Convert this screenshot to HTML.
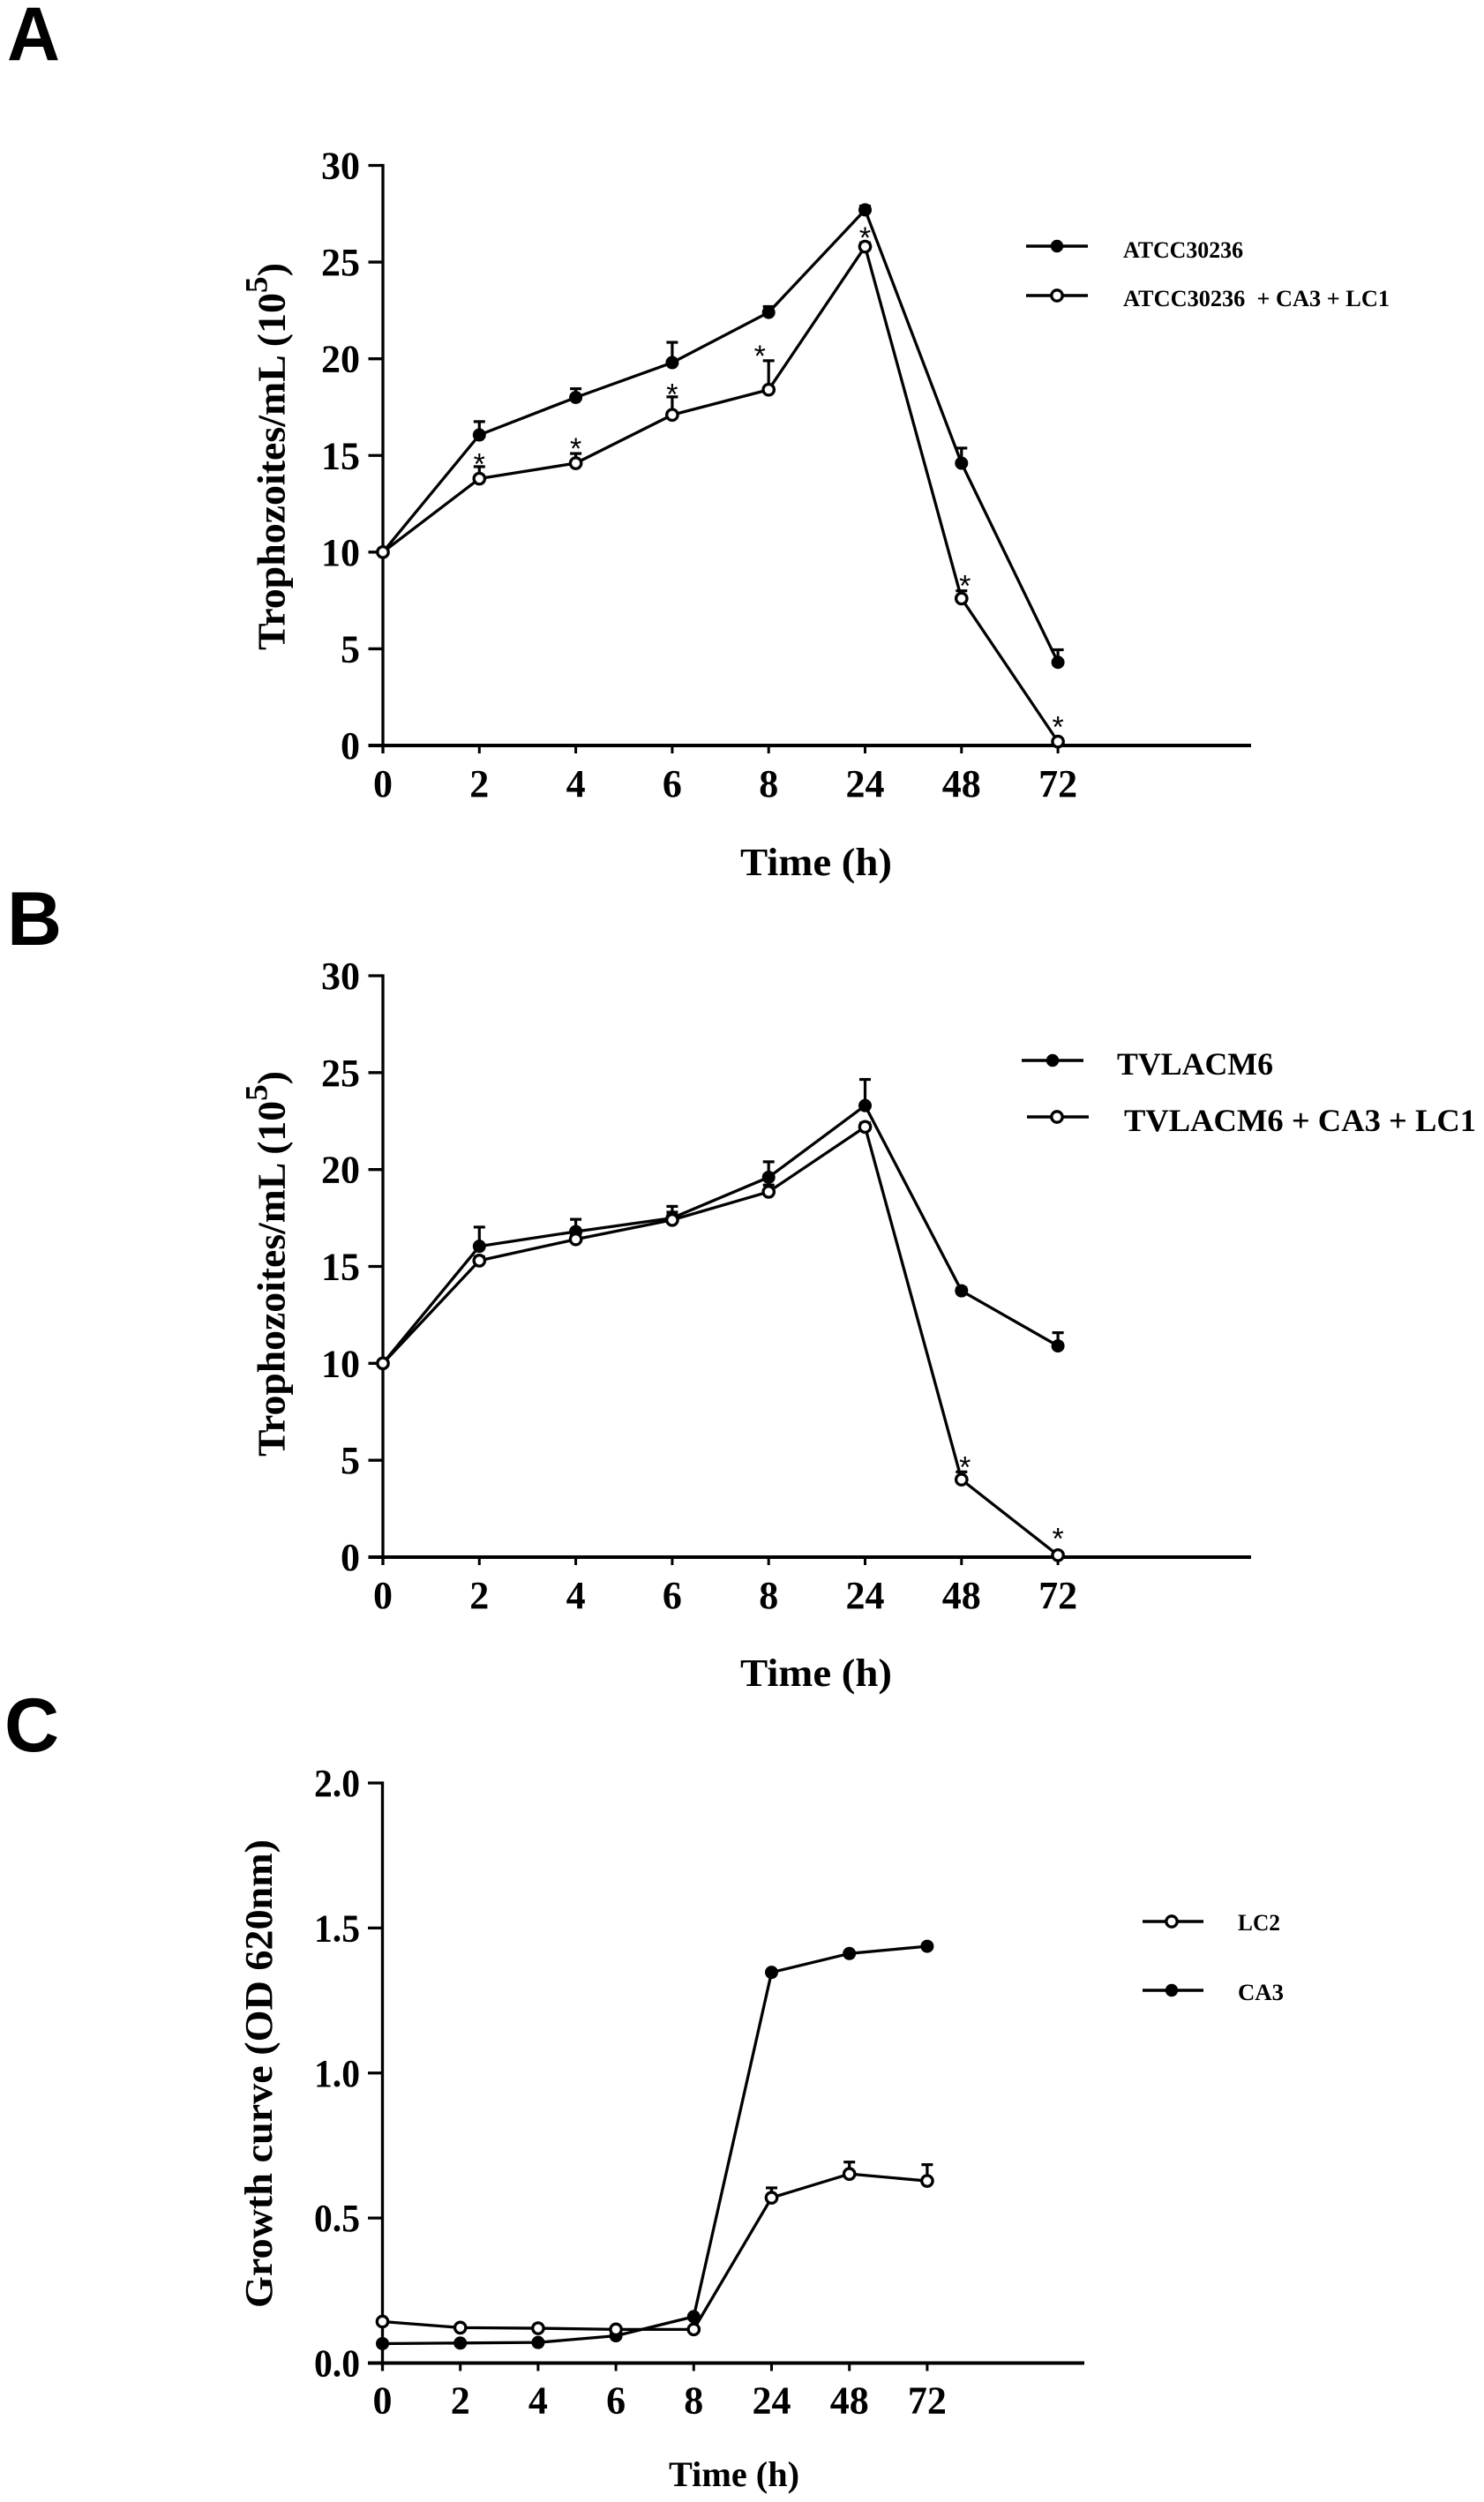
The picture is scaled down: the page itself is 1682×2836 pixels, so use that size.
<!DOCTYPE html>
<html lang="en">
<head>
<meta charset="utf-8">
<title>Trophozoite and bacterial growth curves</title>
<style>
html,body{margin:0;padding:0;background:#fff;}
svg{display:block;}
text{font-family:"Liberation Serif",serif;font-weight:bold;fill:#000;}
.panel-letter{font-family:"Liberation Sans",sans-serif;font-size:86px;}
.axis-title{font-size:44px;}
</style>
</head>
<body>
<svg id="figure" xmlns="http://www.w3.org/2000/svg" width="1682" height="2836" viewBox="0 0 1682 2836">
  <rect x="0" y="0" width="1682" height="2836" fill="#fff"/>

  <text class="panel-letter" x="8" y="68" textLength="60" lengthAdjust="spacingAndGlyphs">A</text>
  <text class="panel-letter" x="8" y="1071">B</text>
  <text class="panel-letter" x="5" y="1985">C</text>

  <g id="panel-a"></g>
  <g id="panel-b"></g>
  <g id="panel-c"></g>

  <text class="axis-title" transform="translate(322.5,737) rotate(-90)" textLength="439" lengthAdjust="spacingAndGlyphs">Trophozoites/mL (10<tspan font-size="36" dy="-20">5</tspan><tspan dy="20">)</tspan></text>
  <text class="axis-title" transform="translate(322.5,1651) rotate(-90)" textLength="437" lengthAdjust="spacingAndGlyphs">Trophozoites/mL (10<tspan font-size="36" dy="-20">5</tspan><tspan dy="20">)</tspan></text>
  <text class="axis-title" transform="translate(308,2616) rotate(-90)" textLength="531" lengthAdjust="spacingAndGlyphs">Growth curve (OD 620nm)</text>

  <text class="axis-title" x="839" y="992" textLength="172" lengthAdjust="spacingAndGlyphs">Time (h)</text>
  <text class="axis-title" x="839" y="1911" textLength="172" lengthAdjust="spacingAndGlyphs">Time (h)</text>
  <text class="axis-title" x="758" y="2818" style="font-size:40px" textLength="148" lengthAdjust="spacingAndGlyphs">Time (h)</text>

  <g>
    <g>
      <line x1="1163" y1="279" x2="1233" y2="279" stroke="#000" stroke-width="3.5"/>
      <circle cx="1198" cy="279" r="7.2" fill="#000"/>
      <text x="1273" y="292" font-size="26" textLength="136" lengthAdjust="spacingAndGlyphs">ATCC30236</text>
    </g>
    <g>
      <line x1="1163" y1="335" x2="1233" y2="335" stroke="#000" stroke-width="3.5"/>
      <circle cx="1198" cy="335" r="6.2" fill="#fff" stroke="#000" stroke-width="3.3"/>
      <text x="1273" y="347" font-size="26" xml:space="preserve" textLength="302" lengthAdjust="spacingAndGlyphs">ATCC30236  + CA3 + LC1</text>
    </g>
  </g>

  <g>
    <g>
      <line x1="1158" y1="1202" x2="1228" y2="1202" stroke="#000" stroke-width="3.5"/>
      <circle cx="1193" cy="1202" r="7.2" fill="#000"/>
      <text x="1266" y="1218" font-size="36" textLength="177" lengthAdjust="spacingAndGlyphs">TVLACM6</text>
    </g>
    <g>
      <line x1="1164" y1="1266" x2="1234" y2="1266" stroke="#000" stroke-width="3.5"/>
      <circle cx="1198" cy="1266" r="6.2" fill="#fff" stroke="#000" stroke-width="3.3"/>
      <text x="1274" y="1282" font-size="36" textLength="399" lengthAdjust="spacingAndGlyphs">TVLACM6 + CA3 + LC1</text>
    </g>
  </g>

  <g>
    <g>
      <line x1="1295" y1="2178" x2="1364" y2="2178" stroke="#000" stroke-width="3.5"/>
      <circle cx="1328" cy="2178" r="6.2" fill="#fff" stroke="#000" stroke-width="3.3"/>
      <text x="1403" y="2188" font-size="26" textLength="48" lengthAdjust="spacingAndGlyphs">LC2</text>
    </g>
    <g>
      <line x1="1295" y1="2256" x2="1364" y2="2256" stroke="#000" stroke-width="3.5"/>
      <circle cx="1328" cy="2256" r="7.2" fill="#000"/>
      <text x="1403" y="2267" font-size="26" textLength="52" lengthAdjust="spacingAndGlyphs">CA3</text>
    </g>
  </g>
</svg>

<script>
// ---------- Chart data ----------
const timeLabels = ['0', '2', '4', '6', '8', '24', '48', '72'];

const yTicksAB = ['0', '5', '10', '15', '20', '25', '30'];
const yTicksC = ['0.0', '0.5', '1.0', '1.5', '2.0'];

const atccValues = [10, 16.06, 18, 19.8, 22.4, 27.7, 14.6, 4.3];
const atccErrorTops = [10, 16.75, 18.45, 20.85, 22.7, 27.9, 15.38, 4.95];
const atccTreatedValues = [10, 13.8, 14.6, 17.1, 18.4, 25.8, 7.6, 0.2];
const atccTreatedErrorTops = [10, 14.42, 15.1, 18.03, 19.9, 26, 8, 0.2];
const atccStarLevels = [null, 14.8, 15.6, 18.4, 20.4, 26.5, 8.5, 1.2];

const tvValues = [10, 16.04, 16.8, 17.5, 19.6, 23.3, 13.74, 10.9];
const tvErrorTops = [10, 17.03, 17.43, 18.1, 20.4, 24.65, 13.9, 11.58];
const tvTreatedValues = [10, 15.3, 16.4, 17.4, 18.85, 22.2, 4, 0.1];
const tvTreatedErrorTops = [10, 15.5, 16.6, 17.8, 19.2, 22.4, 4.4, 0.1];
const tvStarLevels = [null, null, null, null, null, null, 4.9, 1.2];

const ca3Values = [0.067, 0.069, 0.071, 0.094, 0.16, 1.347, 1.412, 1.437];
const ca3ErrorTops = [0.067, 0.069, 0.071, 0.094, 0.16, 1.347, 1.412, 1.437];
const lc2Values = [0.143, 0.122, 0.12, 0.116, 0.116, 0.57, 0.652, 0.628];
const lc2ErrorTops = [0.143, 0.122, 0.12, 0.116, 0.116, 0.604, 0.693, 0.684];

// ---------- Drawing ----------
const SVG_NS = 'http://www.w3.org/2000/svg';

function shape(parent, tag, attrs) {
  const el = document.createElementNS(SVG_NS, tag);
  for (const k in attrs) el.setAttribute(k, attrs[k]);
  parent.appendChild(el);
  return el;
}

function label(parent, x, y, str, anchor, size) {
  const el = shape(parent, 'text', { x: x, y: y, 'text-anchor': anchor, 'font-size': size });
  el.textContent = str;
  return el;
}

function drawAxes(root, cfg, xScale, yScale) {
  const axisY = shape(root, 'line', { x1: cfg.x0, y1: cfg.yTop - 1.6, x2: cfg.x0, y2: cfg.y0 + 9, stroke: '#000', 'stroke-width': 3.3 });
  
  

  const axisX = shape(root, 'line', { x1: cfg.x0 - 16.5, y1: cfg.y0, x2: cfg.xEnd, y2: cfg.y0, stroke: '#000', 'stroke-width': 4 });
  
  

  cfg.yTicks.forEach(function (t) {
    const y = yScale(parseFloat(t));
    const tick = shape(root, 'line', { x1: cfg.x0 - 16.5, y1: y, x2: cfg.x0, y2: y, stroke: '#000', 'stroke-width': 3.3 });
    
    

    const text = label(root, 408, y + 15, t, 'end', 44);
    
    
    if (t.length > 2) {
      text.setAttribute('textLength', 52);
      text.setAttribute('lengthAdjust', 'spacingAndGlyphs');
    }
  });

  timeLabels.forEach(function (t, i) {
    const x = xScale(i);
    const tick = shape(root, 'line', { x1: x, y1: cfg.y0, x2: x, y2: cfg.y0 + 9, stroke: '#000', 'stroke-width': 3 });
    
    

    const text = label(root, x, cfg.y0 + cfg.xLabelDrop, t, 'middle', 44);
    
    
  });
}

function drawSeries(root, values, errorTops, filled, xScale, yScale) {
  errorTops.forEach(function (top, i) {
    if (top - values[i] <= 0) return;
    const x = xScale(i);
    const stem = shape(root, 'line', { x1: x, y1: yScale(values[i]), x2: x, y2: yScale(top), stroke: '#000', 'stroke-width': 3.2 });
    
    

    const cap = shape(root, 'line', { x1: x - 6.5, y1: yScale(top), x2: x + 6.5, y2: yScale(top), stroke: '#000', 'stroke-width': 3.2 });
    
    
  });

  const pts = values.map(function (v, i) { return xScale(i) + ',' + yScale(v); }).join(' ');
  const line = shape(root, 'polyline', { points: pts, fill: 'none', stroke: '#000', 'stroke-width': 3.3, 'stroke-linejoin': 'round' });
  
  

  values.forEach(function (v, i) {
    const dot = shape(root, 'circle', filled
      ? { cx: xScale(i), cy: yScale(v), r: 7.5, fill: '#000' }
      : { cx: xScale(i), cy: yScale(v), r: 6.2, fill: '#fff', stroke: '#000', 'stroke-width': 3.3 });
    
    
  });
}

function drawStars(root, levels, nudgedIndex, xScale, yScale) {
  levels.forEach(function (level, i) {
    if (level === null) return;
    const nudge = i === nudgedIndex ? -10 : (i === 6 ? 4 : 0);
    const star = label(root, xScale(i) + nudge, yScale(level) + 17, '*', 'middle', 34);
    
    
    star.style.fontFamily = '"Liberation Sans", sans-serif';
    star.style.fontWeight = 'normal';
  });
}

function drawPanel(id, cfg, series, stars, nudgedIndex) {
  const root = document.getElementById(id);
  const xScale = function (i) { return cfg.x0 + i * cfg.xStep; };
  const yScale = function (v) { return cfg.y0 - (v / cfg.yMax) * (cfg.y0 - cfg.yTop); };
  drawAxes(root, cfg, xScale, yScale);
  series.forEach(function (s) { drawSeries(root, s.values, s.errors, s.filled, xScale, yScale); });
  if (stars) drawStars(root, stars, nudgedIndex, xScale, yScale);
}

drawPanel('panel-a',
  { x0: 434, xStep: 109.3, xEnd: 1418, y0: 845, yTop: 187.5, yMax: 30, yTicks: yTicksAB, xLabelDrop: 58 },
  [
    { values: atccValues, errors: atccErrorTops, filled: true },
    { values: atccTreatedValues, errors: atccTreatedErrorTops, filled: false }
  ], atccStarLevels, 4);

drawPanel('panel-b',
  { x0: 434, xStep: 109.3, xEnd: 1418, y0: 1765, yTop: 1106, yMax: 30, yTicks: yTicksAB, xLabelDrop: 58 },
  [
    { values: tvValues, errors: tvErrorTops, filled: true },
    { values: tvTreatedValues, errors: tvTreatedErrorTops, filled: false }
  ], tvStarLevels, -1);

drawPanel('panel-c',
  { x0: 433.5, xStep: 88.2, xEnd: 1229, y0: 2678.5, yTop: 2021, yMax: 2, yTicks: yTicksC, xLabelDrop: 57 },
  [
    { values: ca3Values, errors: ca3ErrorTops, filled: true },
    { values: lc2Values, errors: lc2ErrorTops, filled: false }
  ], null, -1);
</script>
</body>
</html>
